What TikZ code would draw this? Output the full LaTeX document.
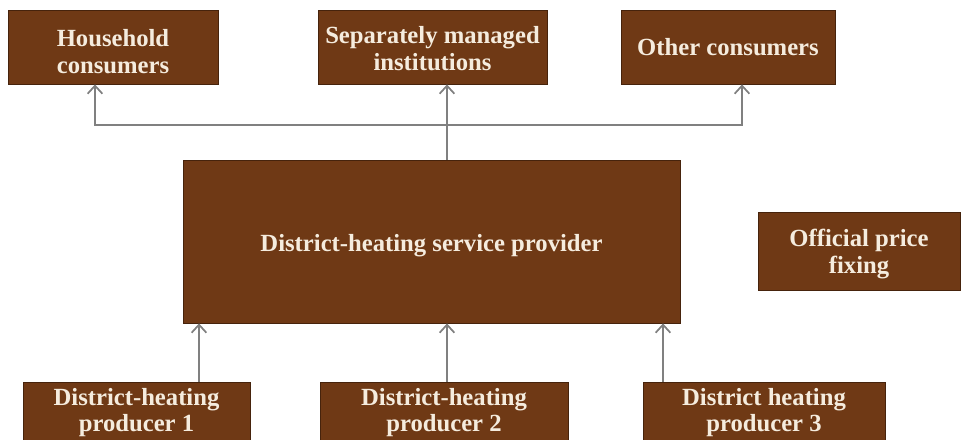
\documentclass[tikz,border=0pt]{standalone}
\usepackage{fontspec}
\setmainfont{Liberation Serif}
\usetikzlibrary{arrows.meta}
\definecolor{boxbrown}{RGB}{111,57,21}
\definecolor{boxedge}{RGB}{70,35,12}
\definecolor{boxtext}{RGB}{245,236,222}
\definecolor{linegray}{RGB}{128,128,128}
\newcommand{\tstrut}[1]{\rule{0pt}{#1}}
\tikzset{
  box/.style={rectangle, fill=boxbrown, draw=boxedge, line width=0.6pt, text=boxtext,
    font=\bfseries\fontsize{18.5}{20}\selectfont, align=center, inner sep=0pt},
  conn/.style={draw=linegray, line width=1.5pt},
  arr/.style={conn, -{Straight Barb[length=6pt,width=11pt,line width=1.3pt]}}
}
\begin{document}
\begin{tikzpicture}[x=0.75pt,y=-0.75pt]
\useasboundingbox (0,0) rectangle (963,439);
\clip (0,0) rectangle (963,439);
\node[box, minimum width=157.5pt, minimum height=55.5pt] (hh) at (113,47) {\tstrut{20pt}Household\\consumers};
\node[box, minimum width=171.75pt, minimum height=55.5pt] (sm) at (432.5,47) {\tstrut{15.5pt}Separately managed\\institutions};
\node[box, minimum width=160.5pt, minimum height=55.5pt] (oc) at (728,47) {Other consumers};
\node[box, minimum width=372.75pt, minimum height=122.25pt] (sp) at (431.5,241.5) {\tstrut{19.75pt}District-heating service provider};
\node[box, minimum width=151.5pt, minimum height=58.5pt] (op) at (859,251) {\tstrut{18pt}Official price\\fixing};
\node[box, minimum width=170.25pt, minimum height=45pt] (p1) at (136.5,412) {\tstrut{13.5pt}District-heating\\producer 1};
\node[box, minimum width=186pt, minimum height=45pt] (p2) at (444,412) {\tstrut{13.5pt}District-heating\\producer 2};
\node[box, minimum width=181.5pt, minimum height=45pt] (p3) at (764,412) {\tstrut{13.5pt}District heating\\producer 3};
\coordinate (bl) at (95,125);
\coordinate (bc) at (447,125);
\coordinate (br) at (742,125);
\coordinate (a1) at (199,0);
\coordinate (a2) at (447,0);
\coordinate (a3) at (663,0);
\draw[conn] (sp.north -| bc) -- (bc);
\draw[arr] (bc) -- (bl) -- (bl |- hh.south);
\draw[arr] (bc) -- (br) -- (br |- oc.south);
\draw[arr] (bc) -- (bc |- sm.south);
\draw[arr] (p1.north -| a1) -- (sp.south -| a1);
\draw[arr] (p2.north -| a2) -- (sp.south -| a2);
\draw[arr] (p3.north -| a3) -- (sp.south -| a3);
\end{tikzpicture}
\end{document}
